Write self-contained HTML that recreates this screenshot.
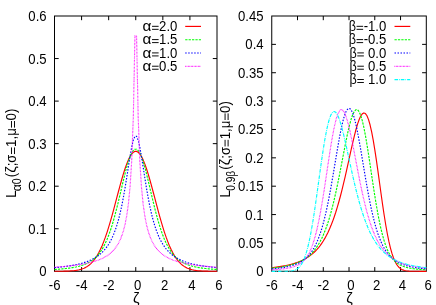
<!DOCTYPE html><html><head><meta charset="utf-8"><style>html,body{margin:0;padding:0;background:#fff}svg{display:block}text{font-family:"Liberation Sans",sans-serif;fill:#000}</style></head><body><div style="width:436px;height:305px;will-change:transform;overflow:hidden">
<svg width="436" height="305" viewBox="0 0 436 305">
<rect width="436" height="305" fill="#fff"/>
<g stroke="#000" stroke-width="1" fill="none">
<rect x="54.50" y="16.00" width="162.50" height="255.30"/>
<path d="M54.50 228.75h4.20M217.00 228.75h-4.20"/>
<path d="M54.50 186.20h4.20M217.00 186.20h-4.20"/>
<path d="M54.50 143.65h4.20M217.00 143.65h-4.20"/>
<path d="M54.50 101.10h4.20M217.00 101.10h-4.20"/>
<path d="M54.50 58.55h4.20M217.00 58.55h-4.20"/>
<path d="M81.58 271.30v-4.20M81.58 16.00v4.20"/>
<path d="M108.67 271.30v-4.20M108.67 16.00v4.20"/>
<path d="M135.75 271.30v-4.20M135.75 16.00v4.20"/>
<path d="M162.83 271.30v-4.20M162.83 16.00v4.20"/>
<path d="M189.92 271.30v-4.20M189.92 16.00v4.20"/>
</g>
<text transform="translate(39.29 276.30) scale(1.0000 1.090)" font-size="13.15" xml:space="preserve">0</text>
<text transform="translate(28.32 233.75) scale(1.0000 1.090)" font-size="13.15" xml:space="preserve">0.1</text>
<text transform="translate(28.32 191.20) scale(1.0000 1.090)" font-size="13.15" xml:space="preserve">0.2</text>
<text transform="translate(28.32 148.65) scale(1.0000 1.090)" font-size="13.15" xml:space="preserve">0.3</text>
<text transform="translate(28.32 106.10) scale(1.0000 1.090)" font-size="13.15" xml:space="preserve">0.4</text>
<text transform="translate(28.32 63.55) scale(1.0000 1.090)" font-size="13.15" xml:space="preserve">0.5</text>
<text transform="translate(28.32 21.00) scale(1.0000 1.090)" font-size="13.15" xml:space="preserve">0.6</text>
<text transform="translate(48.75 289.60) scale(1.0000 1.090)" font-size="13.15" xml:space="preserve">-6</text>
<text transform="translate(75.84 289.60) scale(1.0000 1.090)" font-size="13.15" xml:space="preserve">-4</text>
<text transform="translate(102.92 289.60) scale(1.0000 1.090)" font-size="13.15" xml:space="preserve">-2</text>
<text transform="translate(130.37 289.60) scale(1.0000 1.090)" font-size="13.15" xml:space="preserve"> 0</text>
<text transform="translate(157.45 289.60) scale(1.0000 1.090)" font-size="13.15" xml:space="preserve"> 2</text>
<text transform="translate(184.53 289.60) scale(1.0000 1.090)" font-size="13.15" xml:space="preserve"> 4</text>
<text transform="translate(211.62 289.60) scale(1.0000 1.090)" font-size="13.15" xml:space="preserve"> 6</text>
<text transform="translate(132.90 303.20) scale(1.1202 1.090)" font-size="13.15" xml:space="preserve">&#950;</text>
<g stroke="#000" stroke-width="1" fill="none">
<rect x="271.75" y="16.00" width="154.55" height="255.30"/>
<path d="M271.75 242.93h4.20M426.30 242.93h-4.20"/>
<path d="M271.75 214.57h4.20M426.30 214.57h-4.20"/>
<path d="M271.75 186.20h4.20M426.30 186.20h-4.20"/>
<path d="M271.75 157.83h4.20M426.30 157.83h-4.20"/>
<path d="M271.75 129.47h4.20M426.30 129.47h-4.20"/>
<path d="M271.75 101.10h4.20M426.30 101.10h-4.20"/>
<path d="M271.75 72.73h4.20M426.30 72.73h-4.20"/>
<path d="M271.75 44.37h4.20M426.30 44.37h-4.20"/>
<path d="M297.51 271.30v-4.20M297.51 16.00v4.20"/>
<path d="M323.27 271.30v-4.20M323.27 16.00v4.20"/>
<path d="M349.02 271.30v-4.20M349.02 16.00v4.20"/>
<path d="M374.78 271.30v-4.20M374.78 16.00v4.20"/>
<path d="M400.54 271.30v-4.20M400.54 16.00v4.20"/>
</g>
<text transform="translate(256.29 276.30) scale(1.0000 1.090)" font-size="13.15" xml:space="preserve">0</text>
<text transform="translate(238.01 247.94) scale(1.0000 1.090)" font-size="13.15" xml:space="preserve">0.05</text>
<text transform="translate(245.32 219.57) scale(1.0000 1.090)" font-size="13.15" xml:space="preserve">0.1</text>
<text transform="translate(238.01 191.20) scale(1.0000 1.090)" font-size="13.15" xml:space="preserve">0.15</text>
<text transform="translate(245.32 162.84) scale(1.0000 1.090)" font-size="13.15" xml:space="preserve">0.2</text>
<text transform="translate(238.01 134.47) scale(1.0000 1.090)" font-size="13.15" xml:space="preserve">0.25</text>
<text transform="translate(245.32 106.10) scale(1.0000 1.090)" font-size="13.15" xml:space="preserve">0.3</text>
<text transform="translate(238.01 77.74) scale(1.0000 1.090)" font-size="13.15" xml:space="preserve">0.35</text>
<text transform="translate(245.32 49.37) scale(1.0000 1.090)" font-size="13.15" xml:space="preserve">0.4</text>
<text transform="translate(238.01 21.00) scale(1.0000 1.090)" font-size="13.15" xml:space="preserve">0.45</text>
<text transform="translate(266.00 289.60) scale(1.0000 1.090)" font-size="13.15" xml:space="preserve">-6</text>
<text transform="translate(291.76 289.60) scale(1.0000 1.090)" font-size="13.15" xml:space="preserve">-4</text>
<text transform="translate(317.52 289.60) scale(1.0000 1.090)" font-size="13.15" xml:space="preserve">-2</text>
<text transform="translate(343.64 289.60) scale(1.0000 1.090)" font-size="13.15" xml:space="preserve"> 0</text>
<text transform="translate(369.40 289.60) scale(1.0000 1.090)" font-size="13.15" xml:space="preserve"> 2</text>
<text transform="translate(395.16 289.60) scale(1.0000 1.090)" font-size="13.15" xml:space="preserve"> 4</text>
<text transform="translate(420.92 289.60) scale(1.0000 1.090)" font-size="13.15" xml:space="preserve"> 6</text>
<text transform="translate(346.18 303.20) scale(1.1202 1.090)" font-size="13.15" xml:space="preserve">&#950;</text>
<g fill="none" stroke-width="1.15" stroke-linejoin="round">
<polyline stroke="#ff0000" points="54.50,271.29 56.14,271.28 57.78,271.27 59.42,271.26 61.07,271.24 62.71,271.22 64.35,271.18 65.99,271.14 67.63,271.09 69.27,271.01 70.91,270.91 72.56,270.78 74.20,270.61 75.84,270.40 77.48,270.13 79.12,269.78 80.76,269.35 82.40,268.82 84.05,268.16 85.69,267.36 87.33,266.39 88.97,265.22 90.61,263.84 92.25,262.20 93.89,260.28 95.54,258.06 97.18,255.51 98.82,252.61 100.46,249.33 102.10,245.66 103.74,241.60 105.38,237.15 107.03,232.33 108.67,227.14 110.31,221.64 111.95,215.85 113.59,209.84 115.23,203.68 116.87,197.45 118.52,191.24 120.16,185.14 121.80,179.25 123.44,173.67 125.08,168.52 126.72,163.89 128.36,159.87 130.01,156.55 131.65,153.99 133.29,152.26 134.93,151.38 136.57,151.38 138.21,152.26 139.85,153.99 141.49,156.55 143.14,159.87 144.78,163.89 146.42,168.52 148.06,173.67 149.70,179.25 151.34,185.14 152.98,191.24 154.63,197.45 156.27,203.68 157.91,209.84 159.55,215.85 161.19,221.64 162.83,227.14 164.47,232.33 166.12,237.15 167.76,241.60 169.40,245.66 171.04,249.33 172.68,252.61 174.32,255.51 175.96,258.06 177.61,260.28 179.25,262.20 180.89,263.84 182.53,265.22 184.17,266.39 185.81,267.36 187.45,268.16 189.10,268.82 190.74,269.35 192.38,269.78 194.02,270.13 195.66,270.40 197.30,270.61 198.94,270.78 200.59,270.91 202.23,271.01 203.87,271.09 205.51,271.14 207.15,271.18 208.79,271.22 210.43,271.24 212.08,271.26 213.72,271.27 215.36,271.28 217.00,271.29"/>
<polyline stroke="#00ff00" stroke-dasharray="2.3 1.1" points="54.50,269.50 56.14,269.40 57.78,269.28 59.42,269.15 61.07,269.02 62.71,268.87 64.35,268.70 65.99,268.52 67.63,268.33 69.27,268.11 70.91,267.87 72.56,267.60 74.20,267.31 75.84,266.98 77.48,266.61 79.12,266.20 80.76,265.73 82.40,265.21 84.05,264.63 85.69,263.96 87.33,263.21 88.97,262.35 90.61,261.37 92.25,260.25 93.89,258.97 95.54,257.51 97.18,255.83 98.82,253.91 100.46,251.71 102.10,249.20 103.74,246.35 105.38,243.10 107.03,239.44 108.67,235.33 110.31,230.75 111.95,225.68 113.59,220.14 115.23,214.15 116.87,207.76 118.52,201.05 120.16,194.11 121.80,187.08 123.44,180.13 125.08,173.43 126.72,167.18 128.36,161.58 130.01,156.83 131.65,153.09 133.29,150.51 134.93,149.20 136.57,149.20 138.21,150.51 139.85,153.09 141.49,156.83 143.14,161.58 144.78,167.18 146.42,173.43 148.06,180.13 149.70,187.08 151.34,194.11 152.98,201.05 154.63,207.76 156.27,214.15 157.91,220.14 159.55,225.68 161.19,230.75 162.83,235.33 164.47,239.44 166.12,243.10 167.76,246.35 169.40,249.20 171.04,251.71 172.68,253.91 174.32,255.83 175.96,257.51 177.61,258.97 179.25,260.25 180.89,261.37 182.53,262.35 184.17,263.21 185.81,263.96 187.45,264.63 189.10,265.21 190.74,265.73 192.38,266.20 194.02,266.61 195.66,266.98 197.30,267.31 198.94,267.60 200.59,267.87 202.23,268.11 203.87,268.33 205.51,268.52 207.15,268.70 208.79,268.87 210.43,269.02 212.08,269.15 213.72,269.28 215.36,269.40 217.00,269.50"/>
<polyline stroke="#0000ff" stroke-dasharray="1.5 1.5" points="54.50,267.64 56.14,267.49 57.78,267.33 59.42,267.17 61.07,266.99 62.71,266.80 64.35,266.60 65.99,266.38 67.63,266.15 69.27,265.90 70.91,265.64 72.56,265.35 74.20,265.05 75.84,264.72 77.48,264.36 79.12,263.97 80.76,263.56 82.40,263.10 84.05,262.61 85.69,262.07 87.33,261.48 88.97,260.83 90.61,260.12 92.25,259.33 93.89,258.47 95.54,257.51 97.18,256.44 98.82,255.25 100.46,253.92 102.10,252.42 103.74,250.74 105.38,248.83 107.03,246.67 108.67,244.21 110.31,241.40 111.95,238.18 113.59,234.47 115.23,230.20 116.87,225.28 118.52,219.60 120.16,213.07 121.80,205.60 123.44,197.14 125.08,187.73 126.72,177.53 128.36,166.92 130.01,156.52 131.65,147.25 133.29,140.19 134.93,136.35 136.57,136.35 138.21,140.19 139.85,147.25 141.49,156.52 143.14,166.92 144.78,177.53 146.42,187.73 148.06,197.14 149.70,205.60 151.34,213.07 152.98,219.60 154.63,225.28 156.27,230.20 157.91,234.47 159.55,238.18 161.19,241.40 162.83,244.21 164.47,246.67 166.12,248.83 167.76,250.74 169.40,252.42 171.04,253.92 172.68,255.25 174.32,256.44 175.96,257.51 177.61,258.47 179.25,259.33 180.89,260.12 182.53,260.83 184.17,261.48 185.81,262.07 187.45,262.61 189.10,263.10 190.74,263.56 192.38,263.97 194.02,264.36 195.66,264.72 197.30,265.05 198.94,265.35 200.59,265.64 202.23,265.90 203.87,266.15 205.51,266.38 207.15,266.60 208.79,266.80 210.43,266.99 212.08,267.17 213.72,267.33 215.36,267.49 217.00,267.64"/>
<polyline stroke="#ff00ff" stroke-dasharray="0.7 0.72" points="54.50,267.17 56.14,267.06 57.78,266.94 59.42,266.81 61.07,266.68 62.71,266.54 64.35,266.40 65.99,266.25 67.63,266.09 69.27,265.92 70.91,265.74 72.56,265.55 74.20,265.35 75.84,265.14 77.48,264.91 79.12,264.67 80.76,264.41 82.40,264.14 84.05,263.84 85.69,263.53 87.33,263.19 88.97,262.83 90.61,262.43 92.25,262.01 93.89,261.55 95.54,261.04 97.18,260.49 98.82,259.89 100.46,259.23 102.10,258.50 103.74,257.69 105.38,256.79 107.03,255.78 108.67,254.64 110.31,253.36 111.95,251.88 113.59,250.19 115.23,248.22 116.87,245.91 118.52,243.17 120.16,239.86 121.80,235.82 123.44,230.77 125.08,224.31 126.72,215.81 128.36,204.17 130.01,187.42 131.65,161.61 133.29,117.81 134.95,35.87 136.55,35.87 138.21,117.81 139.85,161.61 141.49,187.42 143.14,204.17 144.78,215.81 146.42,224.31 148.06,230.77 149.70,235.82 151.34,239.86 152.98,243.17 154.63,245.91 156.27,248.22 157.91,250.19 159.55,251.88 161.19,253.36 162.83,254.64 164.47,255.78 166.12,256.79 167.76,257.69 169.40,258.50 171.04,259.23 172.68,259.89 174.32,260.49 175.96,261.04 177.61,261.55 179.25,262.01 180.89,262.43 182.53,262.83 184.17,263.19 185.81,263.53 187.45,263.84 189.10,264.14 190.74,264.41 192.38,264.67 194.02,264.91 195.66,265.14 197.30,265.35 198.94,265.55 200.59,265.74 202.23,265.92 203.87,266.09 205.51,266.25 207.15,266.40 208.79,266.54 210.43,266.68 212.08,266.81 213.72,266.94 215.36,267.06 217.00,267.17"/>
<polyline stroke="#ff0000" points="271.75,267.66 273.31,267.48 274.87,267.29 276.43,267.09 277.99,266.87 279.56,266.64 281.12,266.39 282.68,266.12 284.24,265.83 285.80,265.53 287.36,265.19 288.92,264.84 290.48,264.45 292.04,264.03 293.61,263.58 295.17,263.09 296.73,262.56 298.29,261.99 299.85,261.37 301.41,260.69 302.97,259.95 304.53,259.15 306.09,258.27 307.66,257.31 309.22,256.26 310.78,255.12 312.34,253.87 313.90,252.50 315.46,250.99 317.02,249.35 318.58,247.54 320.14,245.56 321.71,243.39 323.27,241.01 324.83,238.41 326.39,235.56 327.95,232.44 329.51,229.04 331.07,225.34 332.63,221.32 334.19,216.96 335.76,212.25 337.32,207.19 338.88,201.77 340.44,195.99 342.00,189.88 343.56,183.45 345.12,176.76 346.68,169.85 348.24,162.79 349.81,155.69 351.37,148.64 352.93,141.79 354.49,135.27 356.05,129.26 357.61,123.92 359.17,119.45 360.73,116.01 362.29,113.80 363.86,112.94 365.42,113.58 366.98,115.79 368.54,119.61 370.10,125.01 371.66,131.92 373.22,140.19 374.78,149.62 376.34,159.96 377.91,170.93 379.47,182.22 381.03,193.53 382.59,204.55 384.15,215.02 385.71,224.72 387.27,233.49 388.83,241.21 390.39,247.85 391.96,253.42 393.52,257.96 395.08,261.58 396.64,264.38 398.20,266.50 399.76,268.05 401.32,269.16 402.88,269.92 404.44,270.44 406.01,270.78 407.57,270.99 409.13,271.12 410.69,271.20 412.25,271.25 413.81,271.27 415.37,271.29 416.93,271.29 418.49,271.30 420.06,271.30 421.62,271.30 423.18,271.30 424.74,271.30 426.30,271.30"/>
<polyline stroke="#00ff00" stroke-dasharray="2.3 1.1" points="271.75,268.19 273.31,268.02 274.87,267.85 276.43,267.65 277.99,267.45 279.56,267.22 281.12,266.98 282.68,266.72 284.24,266.44 285.80,266.13 287.36,265.79 288.92,265.43 290.48,265.03 292.04,264.60 293.61,264.12 295.17,263.60 296.73,263.02 298.29,262.39 299.85,261.70 301.41,260.93 302.97,260.08 304.53,259.15 306.09,258.11 307.66,256.95 309.22,255.67 310.78,254.24 312.34,252.65 313.90,250.88 315.46,248.91 317.02,246.70 318.58,244.25 320.14,241.51 321.71,238.47 323.27,235.09 324.83,231.34 326.39,227.19 327.95,222.62 329.51,217.59 331.07,212.10 332.63,206.14 334.19,199.70 335.76,192.81 337.32,185.49 338.88,177.81 340.44,169.85 342.00,161.71 343.56,153.53 345.12,145.48 346.68,137.72 348.24,130.49 349.81,123.99 351.37,118.45 352.93,114.09 354.49,111.11 356.05,109.66 357.61,109.87 359.17,111.80 360.73,115.43 362.29,120.69 363.86,127.45 365.42,135.50 366.98,144.59 368.54,154.45 370.10,164.77 371.66,175.26 373.22,185.64 374.78,195.67 376.34,205.16 377.91,213.94 379.47,221.93 381.03,229.08 382.59,235.37 384.15,240.83 385.71,245.51 387.27,249.48 388.83,252.83 390.39,255.62 391.96,257.94 393.52,259.87 395.08,261.46 396.64,262.79 398.20,263.88 399.76,264.80 401.32,265.56 402.88,266.21 404.44,266.76 406.01,267.22 407.57,267.62 409.13,267.97 410.69,268.27 412.25,268.53 413.81,268.76 415.37,268.96 416.93,269.14 418.49,269.30 420.06,269.44 421.62,269.57 423.18,269.69 424.74,269.79 426.30,269.89"/>
<polyline stroke="#0000ff" stroke-dasharray="1.5 1.5" points="271.75,268.90 273.31,268.76 274.87,268.61 276.43,268.44 277.99,268.26 279.56,268.06 281.12,267.84 282.68,267.60 284.24,267.34 285.80,267.04 287.36,266.72 288.92,266.37 290.48,265.97 292.04,265.54 293.61,265.04 295.17,264.50 296.73,263.88 298.29,263.19 299.85,262.40 301.41,261.52 302.97,260.51 304.53,259.36 306.09,258.06 307.66,256.57 309.22,254.86 310.78,252.91 312.34,250.67 313.90,248.11 315.46,245.18 317.02,241.84 318.58,238.03 320.14,233.70 321.71,228.82 323.27,223.34 324.83,217.23 326.39,210.48 327.95,203.09 329.51,195.10 331.07,186.58 332.63,177.63 334.19,168.38 335.76,159.01 337.32,149.74 338.88,140.81 340.44,132.48 342.00,125.01 343.56,118.67 345.12,113.69 346.68,110.25 348.24,108.50 349.81,108.50 351.37,110.25 352.93,113.69 354.49,118.67 356.05,125.01 357.61,132.48 359.17,140.81 360.73,149.74 362.29,159.01 363.86,168.38 365.42,177.63 366.98,186.58 368.54,195.10 370.10,203.09 371.66,210.48 373.22,217.23 374.78,223.34 376.34,228.82 377.91,233.70 379.47,238.03 381.03,241.84 382.59,245.18 384.15,248.11 385.71,250.67 387.27,252.91 388.83,254.86 390.39,256.57 391.96,258.06 393.52,259.36 395.08,260.51 396.64,261.52 398.20,262.40 399.76,263.19 401.32,263.88 402.88,264.50 404.44,265.04 406.01,265.54 407.57,265.97 409.13,266.37 410.69,266.72 412.25,267.04 413.81,267.34 415.37,267.60 416.93,267.84 418.49,268.06 420.06,268.26 421.62,268.44 423.18,268.61 424.74,268.76 426.30,268.90"/>
<polyline stroke="#ff00ff" stroke-dasharray="0.7 0.72" points="271.75,269.89 273.31,269.79 274.87,269.69 276.43,269.57 277.99,269.44 279.56,269.30 281.12,269.14 282.68,268.96 284.24,268.76 285.80,268.53 287.36,268.27 288.92,267.97 290.48,267.62 292.04,267.22 293.61,266.76 295.17,266.21 296.73,265.56 298.29,264.80 299.85,263.88 301.41,262.79 302.97,261.46 304.53,259.87 306.09,257.94 307.66,255.62 309.22,252.83 310.78,249.48 312.34,245.51 313.90,240.83 315.46,235.37 317.02,229.08 318.58,221.93 320.14,213.94 321.71,205.16 323.27,195.67 324.83,185.64 326.39,175.26 327.95,164.77 329.51,154.45 331.07,144.59 332.63,135.50 334.19,127.45 335.76,120.69 337.32,115.43 338.88,111.80 340.44,109.87 342.00,109.66 343.56,111.11 345.12,114.09 346.68,118.45 348.24,123.99 349.81,130.49 351.37,137.72 352.93,145.48 354.49,153.53 356.05,161.71 357.61,169.85 359.17,177.81 360.73,185.49 362.29,192.81 363.86,199.70 365.42,206.14 366.98,212.10 368.54,217.59 370.10,222.62 371.66,227.19 373.22,231.34 374.78,235.09 376.34,238.47 377.91,241.51 379.47,244.25 381.03,246.70 382.59,248.91 384.15,250.88 385.71,252.65 387.27,254.24 388.83,255.67 390.39,256.95 391.96,258.11 393.52,259.15 395.08,260.08 396.64,260.93 398.20,261.70 399.76,262.39 401.32,263.02 402.88,263.60 404.44,264.12 406.01,264.60 407.57,265.03 409.13,265.43 410.69,265.79 412.25,266.13 413.81,266.44 415.37,266.72 416.93,266.98 418.49,267.22 420.06,267.45 421.62,267.65 423.18,267.85 424.74,268.02 426.30,268.19"/>
<polyline stroke="#00ffff" stroke-dasharray="3.6 1.0 0.7 1.0" points="271.75,271.30 273.31,271.30 274.87,271.30 276.43,271.30 277.99,271.30 279.56,271.30 281.12,271.29 282.68,271.29 284.24,271.27 285.80,271.25 287.36,271.20 288.92,271.12 290.48,270.99 292.04,270.78 293.61,270.44 295.17,269.92 296.73,269.16 298.29,268.05 299.85,266.50 301.41,264.38 302.97,261.58 304.53,257.96 306.09,253.42 307.66,247.85 309.22,241.21 310.78,233.48 312.34,224.71 313.90,215.00 315.46,204.52 317.02,193.48 318.58,182.14 320.14,170.79 321.71,159.73 323.27,149.28 324.83,139.71 326.39,131.27 327.95,124.17 329.51,118.57 331.07,114.57 332.63,112.22 334.19,111.48 335.76,112.30 337.32,114.55 338.88,118.08 340.44,122.70 342.00,128.21 343.56,134.41 345.12,141.11 346.68,148.14 348.24,155.32 349.81,162.54 351.37,169.68 352.93,176.65 354.49,183.39 356.05,189.84 357.61,195.97 359.17,201.75 360.73,207.18 362.29,212.25 363.86,216.96 365.42,221.32 366.98,225.34 368.54,229.04 370.10,232.44 371.66,235.56 373.22,238.41 374.78,241.01 376.34,243.39 377.91,245.56 379.47,247.54 381.03,249.35 382.59,250.99 384.15,252.50 385.71,253.87 387.27,255.12 388.83,256.26 390.39,257.31 391.96,258.27 393.52,259.15 395.08,259.95 396.64,260.69 398.20,261.37 399.76,261.99 401.32,262.56 402.88,263.09 404.44,263.58 406.01,264.03 407.57,264.45 409.13,264.84 410.69,265.19 412.25,265.53 413.81,265.83 415.37,266.12 416.93,266.39 418.49,266.64 420.06,266.87 421.62,267.09 423.18,267.29 424.74,267.48 426.30,267.66"/>
<path d="M185.2 26.40H201.0" stroke="#ff0000"/>
<path d="M185.2 39.70H201.0" stroke="#00ff00" stroke-dasharray="2.3 1.1"/>
<path d="M185.2 53.00H201.0" stroke="#0000ff" stroke-dasharray="1.5 1.5"/>
<path d="M185.2 66.30H201.0" stroke="#ff00ff" stroke-dasharray="0.7 0.72"/>
<path d="M394.5 26.40H410.3" stroke="#ff0000"/>
<path d="M394.5 39.70H410.3" stroke="#00ff00" stroke-dasharray="2.3 1.1"/>
<path d="M394.5 53.00H410.3" stroke="#0000ff" stroke-dasharray="1.5 1.5"/>
<path d="M394.5 66.30H410.3" stroke="#ff00ff" stroke-dasharray="0.7 0.72"/>
<path d="M394.5 79.60H410.3" stroke="#00ffff" stroke-dasharray="3.6 1.0 0.7 1.0"/>
</g>
<text transform="translate(142.54 31.10) scale(1.1700 1.090)" font-size="13.15" xml:space="preserve">&#945;</text><rect x="152.03" y="28.84" width="6.58" height="0.95"/><rect x="152.03" y="25.83" width="6.58" height="0.95"/><text transform="translate(159.12 31.10) scale(1.0000 1.090)" font-size="13.15" xml:space="preserve">2.0</text>
<text transform="translate(142.54 44.40) scale(1.1700 1.090)" font-size="13.15" xml:space="preserve">&#945;</text><rect x="152.03" y="42.14" width="6.58" height="0.95"/><rect x="152.03" y="39.13" width="6.58" height="0.95"/><text transform="translate(159.12 44.40) scale(1.0000 1.090)" font-size="13.15" xml:space="preserve">1.5</text>
<text transform="translate(142.54 57.70) scale(1.1700 1.090)" font-size="13.15" xml:space="preserve">&#945;</text><rect x="152.03" y="55.44" width="6.58" height="0.95"/><rect x="152.03" y="52.43" width="6.58" height="0.95"/><text transform="translate(159.12 57.70) scale(1.0000 1.090)" font-size="13.15" xml:space="preserve">1.0</text>
<text transform="translate(142.54 71.00) scale(1.1700 1.090)" font-size="13.15" xml:space="preserve">&#945;</text><rect x="152.03" y="68.74" width="6.58" height="0.95"/><rect x="152.03" y="65.73" width="6.58" height="0.95"/><text transform="translate(159.12 71.00) scale(1.0000 1.090)" font-size="13.15" xml:space="preserve">0.5</text>
<text transform="translate(348.74 31.10) scale(0.9548 1.090)" font-size="13.15" xml:space="preserve">&#946;</text><rect x="356.55" y="28.84" width="6.58" height="0.95"/><rect x="356.55" y="25.83" width="6.58" height="0.95"/><text transform="translate(363.64 31.10) scale(1.0000 1.090)" font-size="13.15" xml:space="preserve">-1.0</text>
<text transform="translate(348.74 44.40) scale(0.9548 1.090)" font-size="13.15" xml:space="preserve">&#946;</text><rect x="356.55" y="42.14" width="6.58" height="0.95"/><rect x="356.55" y="39.13" width="6.58" height="0.95"/><text transform="translate(363.64 44.40) scale(1.0000 1.090)" font-size="13.15" xml:space="preserve">-0.5</text>
<text transform="translate(349.46 57.70) scale(0.9548 1.090)" font-size="13.15" xml:space="preserve">&#946;</text><rect x="357.28" y="55.44" width="6.58" height="0.95"/><rect x="357.28" y="52.43" width="6.58" height="0.95"/><text transform="translate(364.37 57.70) scale(1.0000 1.090)" font-size="13.15" xml:space="preserve"> 0.0</text>
<text transform="translate(349.46 71.00) scale(0.9548 1.090)" font-size="13.15" xml:space="preserve">&#946;</text><rect x="357.28" y="68.74" width="6.58" height="0.95"/><rect x="357.28" y="65.73" width="6.58" height="0.95"/><text transform="translate(364.37 71.00) scale(1.0000 1.090)" font-size="13.15" xml:space="preserve"> 0.5</text>
<text transform="translate(349.46 84.30) scale(0.9548 1.090)" font-size="13.15" xml:space="preserve">&#946;</text><rect x="357.28" y="82.04" width="6.58" height="0.95"/><rect x="357.28" y="79.03" width="6.58" height="0.95"/><text transform="translate(364.37 84.30) scale(1.0000 1.090)" font-size="13.15" xml:space="preserve"> 1.0</text>
<g transform="translate(16.30 197.70) rotate(-90)">
<text transform="translate(0.00 0.00) scale(1.0000 1.090)" font-size="13.25" xml:space="preserve">L</text>
<text transform="translate(6.37 4.70) scale(1.1700 1.210)" font-size="10.60" xml:space="preserve">&#945;</text><text transform="translate(13.54 4.70) scale(1.0000 1.210)" font-size="10.60" xml:space="preserve">0</text>
<text transform="translate(20.43 0.00) scale(1.0000 1.090)" font-size="13.25" xml:space="preserve">(</text><text transform="translate(24.85 0.00) scale(1.1202 1.090)" font-size="13.25" xml:space="preserve">&#950;</text><text transform="translate(31.39 0.00) scale(1.0000 1.090)" font-size="13.25" xml:space="preserve">;</text><text transform="translate(35.07 0.00) scale(0.9773 1.090)" font-size="13.25" xml:space="preserve">&#963;</text><rect x="43.66" y="-2.28" width="6.62" height="0.95"/><rect x="43.66" y="-5.31" width="6.62" height="0.95"/><text transform="translate(50.80 0.00) scale(1.0000 1.090)" font-size="13.25" xml:space="preserve">1,&#956;</text><rect x="70.08" y="-2.28" width="6.62" height="0.95"/><rect x="70.08" y="-5.31" width="6.62" height="0.95"/><text transform="translate(77.23 0.00) scale(1.0000 1.090)" font-size="13.25" xml:space="preserve">0)</text>
</g>
<g transform="translate(229.90 197.60) rotate(-90)">
<text transform="translate(0.00 0.00) scale(1.0000 1.090)" font-size="13.25" xml:space="preserve">L</text>
<text transform="translate(6.97 4.70) scale(1.0000 1.260)" font-size="10.14" xml:space="preserve">0.9</text><text transform="translate(21.06 4.70) scale(0.9548 1.260)" font-size="10.14" xml:space="preserve">&#946;</text>
<text transform="translate(27.93 0.00) scale(1.0000 1.090)" font-size="13.25" xml:space="preserve">(</text><text transform="translate(32.34 0.00) scale(1.1202 1.090)" font-size="13.25" xml:space="preserve">&#950;</text><text transform="translate(38.88 0.00) scale(1.0000 1.090)" font-size="13.25" xml:space="preserve">;</text><text transform="translate(42.56 0.00) scale(0.9773 1.090)" font-size="13.25" xml:space="preserve">&#963;</text><rect x="51.15" y="-2.28" width="6.62" height="0.95"/><rect x="51.15" y="-5.31" width="6.62" height="0.95"/><text transform="translate(58.29 0.00) scale(1.0000 1.090)" font-size="13.25" xml:space="preserve">1,&#956;</text><rect x="77.58" y="-2.28" width="6.62" height="0.95"/><rect x="77.58" y="-5.31" width="6.62" height="0.95"/><text transform="translate(84.72 0.00) scale(1.0000 1.090)" font-size="13.25" xml:space="preserve">0)</text>
</g>
</svg></div></body></html>
